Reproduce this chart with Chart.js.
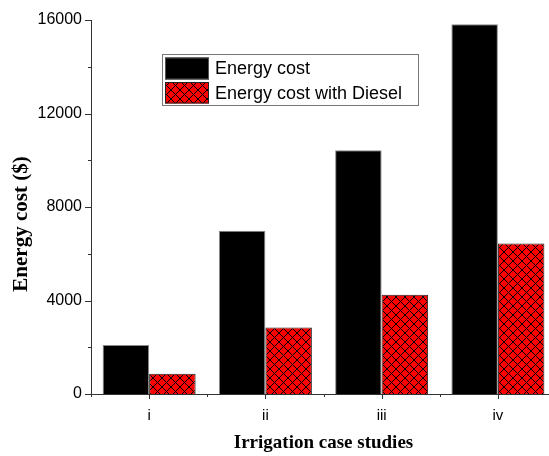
<!DOCTYPE html>
<html>
<head>
<meta charset="utf-8">
<script src="https://cdn.jsdelivr.net/npm/chart.js@4/dist/chart.umd.min.js"></script>
<style>
html,body{margin:0;padding:0;overflow:hidden;background:#fff;}
#wrap{position:relative;width:556px;height:456px;}
</style>
</head>
<body>
<div id="wrap"><canvas id="c"></canvas></div>
<script>
const categories = ['i', 'ii', 'iii', 'iv'];
const energyCost = [2100, 6980, 10430, 15820];
const energyCostDiesel = [870, 2840, 4250, 6440];
const yTicks = [0, 4000, 8000, 12000, 16000];
const seriesNames = ['Energy cost', 'Energy cost with Diesel'];
const xTitle = 'Irrigation case studies';
const yTitle = 'Energy cost ($)';

function hatch() {
  const n = 9;
  const c = document.createElement('canvas');
  c.width = n; c.height = n;
  const g = c.getContext('2d');
  g.fillStyle = '#ff0000';
  g.fillRect(0, 0, n, n);
  g.strokeStyle = '#000';
  g.lineWidth = 1;
  g.beginPath();
  g.moveTo(0, 0); g.lineTo(n, n);
  g.moveTo(n, 0); g.lineTo(0, n);
  g.stroke();
  return g.createPattern(c, 'repeat');
}
const redHatch = hatch();

const tickPlugin = {
  id: 'tickmarks',
  afterDraw(chart) {
    const ctx = chart.ctx;
    const x = chart.scales.x, y = chart.scales.y;
    ctx.save();
    ctx.strokeStyle = '#333';
    ctx.lineWidth = 1;
    for (let v = y.min; v <= y.max; v += 2000) {
      const py = Math.round(y.getPixelForValue(v)) + 0.5;
      const len = yTicks.includes(v) ? 6 : 3;
      ctx.beginPath();
      ctx.moveTo(x.left - len, py);
      ctx.lineTo(x.left, py);
      ctx.stroke();
    }
    const base = y.getPixelForValue(0);
    for (let i = 0; i < categories.length; i++) {
      const pc = Math.round(x.getPixelForValue(i)) + 0.5;
      ctx.beginPath(); ctx.moveTo(pc, base); ctx.lineTo(pc, base + 5); ctx.stroke();
      const pb = Math.round(x.getPixelForValue(i - 0.5)) + 0.5;
      ctx.beginPath(); ctx.moveTo(pb, base); ctx.lineTo(pb, base + 3); ctx.stroke();
    }
    ctx.fillStyle = '#000';
    ctx.font = 'bold 21px "Liberation Serif", "Times New Roman", serif';
    ctx.textAlign = 'center';
    ctx.textBaseline = 'middle';
    ctx.translate(22, (y.top + y.bottom) / 2 + 17);
    ctx.rotate(-Math.PI / 2);
    ctx.fillText(yTitle, 0, 0);
    ctx.restore();

    ctx.save();
    const lx = 162.5, ly = 54.5, lw = 256, lh = 51;
    ctx.fillStyle = '#fff';
    ctx.fillRect(lx, ly, lw, lh);
    ctx.strokeStyle = '#777';
    ctx.lineWidth = 1;
    ctx.strokeRect(lx, ly, lw, lh);
    const ds = chart.data.datasets;
    const rows = [{y: 57.5, h: 22}, {y: 82, h: 21.5}];
    ctx.font = '18px "Liberation Sans", Arial, sans-serif';
    ctx.textBaseline = 'middle';
    ctx.textAlign = 'left';
    ds.forEach((d, i) => {
      const r = rows[i];
      ctx.fillStyle = d.backgroundColor;
      ctx.fillRect(165, r.y, 44, r.h);
      ctx.strokeStyle = i === 0 ? '#555' : '#222';
      ctx.strokeRect(165.5, r.y + 0.5, 43, r.h - 1);
      ctx.fillStyle = '#000';
      ctx.fillText(d.label, 215, r.y + r.h / 2 + 1);
    });
    ctx.restore();
  }
};

new Chart(document.getElementById('c'), {
  type: 'bar',
  data: {
    labels: categories,
    datasets: [
      {label: seriesNames[0], data: energyCost, backgroundColor: '#000', borderColor: '#888', borderWidth: 1},
      {label: seriesNames[1], data: energyCostDiesel, backgroundColor: redHatch, borderColor: '#222', borderWidth: 1}
    ]
  },
  options: {
    responsive: true,
    maintainAspectRatio: false,
    animation: false,
    layout: {padding: {top: 20, right: 0, bottom: 0, left: 0}},
    datasets: {bar: {categoryPercentage: 0.8, barPercentage: 1.0}},
    plugins: {legend: {display: false}, tooltip: {enabled: false}},
    scales: {
      x: {
        grid: {display: false, drawTicks: false},
        border: {display: true, color: '#333', width: 1},
        ticks: {color: '#000', padding: 13, font: {family: '"Liberation Sans", Arial, sans-serif', size: 15}},
        title: {display: true, text: xTitle, color: '#000', padding: {top: 0, bottom: 2},
          font: {family: '"Liberation Serif", "Times New Roman", serif', size: 19, weight: 'bold'}},
        afterFit(s) { s.height = 62; }
      },
      y: {
        min: 0, max: 16000,
        grid: {display: false, drawTicks: false},
        border: {display: true, color: '#333', width: 1},
        afterBuildTicks(s) { s.ticks = yTicks.map(v => ({value: v})); },
        ticks: {color: '#000', padding: 9, font: {family: '"Liberation Sans", Arial, sans-serif', size: 16},
          callback: (v) => String(v)},
        afterFit(s) { s.width = 91; }
      }
    }
  },
  plugins: [tickPlugin]
});
</script>
</body>
</html>
